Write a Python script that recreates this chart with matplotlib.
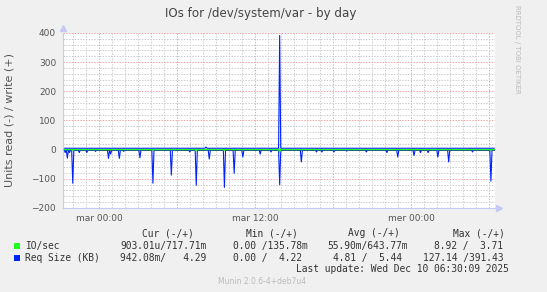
import numpy as np
import matplotlib.pyplot as plt

# graph munin "diskstats_iops"
title = "IOs for /dev/system/var - by day"
ylabel = "Units read (-) / write (+)"
watermark = "RRDTOOL / TOBI OETIKER"
footer = "Munin 2.0.6-4+deb7u4"
last_update = "Last update: Wed Dec 10 06:30:09 2025"

# heures depuis mar 00:00
x_start, x_end = -2.77, 30.46
xtick_hours = [0, 12, 24]
xtick_labels = ["mar 00:00", "mar 12:00", "mer 00:00"]

# Req Size (KB), lectures (negatif)
read_spike_h = [-2.62, -2.41, -2.23, -2.0, -1.54, -0.9, -0.31, 0.72, 0.92, 1.56, 1.87,
                3.15, 4.18, 5.59, 7.0, 7.51, 8.46, 9.62, 10.41, 11.1, 12.38, 13.2,
                13.92, 15.59, 16.74, 17.13, 18.03, 19.05, 20.59, 22.18, 22.97, 24.23,
                24.74, 25.33, 26.1, 26.92, 28.74, 30.13]
read_spike_kb = [10, 29, 10, 115, 10, 10, 6, 30, 15, 30, 6,
                 28, 115, 87, 8, 122, 32, 129, 81, 25, 15, 8,
                 120, 42, 8, 8, 8, 5, 8, 10, 25, 20,
                 10, 10, 25, 42, 8, 108]
# Req Size (KB), ecritures (positif)
write_spike_h = [8.2, 13.87]
write_spike_kb = [9.0, 391.43]
# IO/sec
io_read_spike_h = [-2.0, 4.18, 7.51, 9.62, 13.92, 30.13]
io_read_spike = [3.1, 2.5, 4.0, 3.3, 8.92, 2.2]
io_write_spike_h = [13.87]
io_write_spike = [3.71]

size_read_base = 1.0
size_write_base = 4.8
io_read_base = 0.05
io_write_base = 0.64

legend_names = ["IO/sec", "Req Size (KB)"]
legend_colors = ["#22ff22", "#0022ff"]
cur_vals = ["903.01u/717.71m", "942.08m/   4.29"]
min_vals = ["0.00 /135.78m", "0.00 /  4.22"]
avg_vals = ["55.90m/643.77m", "4.81 /  5.44"]
max_vals = ["8.92 /  3.71", "127.14 /391.43"]

# echantillons toutes les 5 minutes
t = np.arange(x_start, x_end, 1 / 12)


def serie(base, hours, vals):
    s = np.full(len(t), base)
    for h, v in zip(hours, vals):
        s[np.argmin(np.abs(t - h))] = v
    return s


size_read = serie(size_read_base, read_spike_h, read_spike_kb)
size_write = serie(size_write_base, write_spike_h, write_spike_kb)
io_read = serie(io_read_base, io_read_spike_h, io_read_spike)
io_write = serie(io_write_base, io_write_spike_h, io_write_spike)

W, H = 547, 292
fig = plt.figure(figsize=(W / 100, H / 100), dpi=100, facecolor="#f0f0f0")
ax = fig.add_axes([63 / W, 1 - 208 / H, 432 / W, 175 / H])
ax.set_facecolor("white")

# grille en pointilles
grid_kw = dict(lw=0.72, ls=(0, (1.4, 1.4)), zorder=0)
for h in np.arange(-2, 31, 1):
    if h % 6 != 0:
        ax.axvline(h, color="#cccccc", **grid_kw)
for h in np.arange(0, 31, 6):
    ax.axvline(h, color="#f2a4a4", **grid_kw)
for v in np.arange(-200, 401, 20):
    if v % 100 != 0:
        ax.axhline(v, color="#cccccc", **grid_kw)
for v in np.arange(-100, 401, 100):
    ax.axhline(v, color="#f2a4a4", **grid_kw)

ax.plot(t, -size_read, color="#0022ff", lw=0.8, zorder=2)
ax.plot(t, size_write, color="#0022ff", lw=0.8, zorder=2)
ax.plot(t, -io_read, color="#22ff22", lw=0.8, zorder=3)
ax.plot(t, io_write, color="#22ff22", lw=0.8, zorder=3)
ax.axhline(0, color="#000000", lw=0.5, zorder=1)

ax.set_xlim(x_start, x_end)
ax.set_ylim(-200, 400)
ax.set_xticks(xtick_hours)
ax.set_xticklabels(xtick_labels)
ax.set_yticks([-200, -100, 0, 100, 200, 300, 400])
ax.tick_params(length=0, labelsize=6.5, colors="#555555", pad=4)
ax.tick_params(axis="y", pad=5)

for side in ["top", "right"]:
    ax.spines[side].set_visible(False)
for side in ["left", "bottom"]:
    ax.spines[side].set_color("#c8c8f4")
    ax.spines[side].set_linewidth(0.8)
ax.plot([0], [1.03], marker="^", ms=4, color="#c8c8f4", transform=ax.transAxes, clip_on=False)
ax.plot([1.01], [0], marker=">", ms=4, color="#c8c8f4", transform=ax.transAxes, clip_on=False)


def fx(x):
    return x / W


def fy(y):
    return 1 - y / H


fig.text(fx(261), fy(13), title, ha="center", va="center", fontsize=8.6, color="#444444")
fig.text(fx(10), fy(120), ylabel, ha="center", va="center", rotation=90, fontsize=8, color="#555555")
fig.text(fx(517), fy(5), watermark, ha="center", va="top", rotation=270, fontsize=5, color="#bbbbbb")

mono = "DejaVu Sans Mono"
fs = 6.9
col = "#333333"
for x, lab in [(142, "Cur (-/+)"), (246, "Min (-/+)"), (348, "Avg (-/+)"), (453, "Max (-/+)")]:
    fig.text(fx(x), fy(233), lab, family=mono, fontsize=fs, color=col, va="center")

rows_y = [246, 258]
avg_x = [327, 333]
max_x = [434, 423]
for i in range(2):
    y = rows_y[i]
    fig.patches.append(plt.Rectangle((fx(14), fy(y + 3)), 6 / W, 6 / H, transform=fig.transFigure,
                                     facecolor=legend_colors[i], edgecolor="none"))
    fig.text(fx(25), fy(y), legend_names[i], family=mono, fontsize=fs, color=col, va="center")
    fig.text(fx(120), fy(y), cur_vals[i], family=mono, fontsize=fs, color=col, va="center")
    fig.text(fx(233), fy(y), min_vals[i], family=mono, fontsize=fs, color=col, va="center")
    fig.text(fx(avg_x[i]), fy(y), avg_vals[i], family=mono, fontsize=fs, color=col, va="center")
    fig.text(fx(max_x[i]), fy(y), max_vals[i], family=mono, fontsize=fs, color=col, va="center")

fig.text(fx(509), fy(269), last_update, family=mono, fontsize=fs, color=col, va="center", ha="right")
fig.text(fx(262), fy(281), footer, ha="center", va="center", fontsize=5.5, color="#bbbbbb")

fig.savefig("out.png", dpi=100, facecolor=fig.get_facecolor())
